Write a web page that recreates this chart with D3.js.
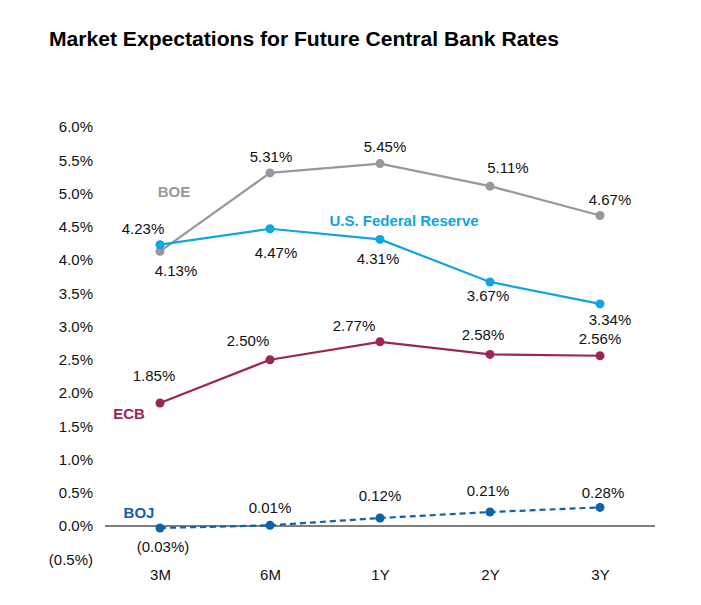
<!DOCTYPE html>
<html><head><meta charset="utf-8">
<script src="https://cdn.jsdelivr.net/npm/d3@7"></script>
<style>body{margin:0;background:#fff}svg{display:block;font-family:Arial,"Liberation Sans",sans-serif}</style>
</head><body><svg id="c" width="701" height="605"></svg>
<script>
const categories = ["3M","6M","1Y","2Y","3Y"];
const boe = [4.13,5.31,5.45,5.11,4.67];
const fed = [4.23,4.47,4.31,3.67,3.34];
const ecb = [1.85,2.50,2.77,2.58,2.56];
const boj = [-0.03,0.01,0.12,0.21,0.28];
const yTicks = [-0.5,0,0.5,1,1.5,2,2.5,3,3.5,4,4.5,5,5.5,6];

// label placement (offsets from the point), styling only
const offs = {
  boe:[[16,19],[1,-16],[5,-17],[18,-19],[10,-16]],
  fed:[[-17,-16],[6,24],[-2,19],[-2,14],[10,16]],
  ecb:[[-6,-27],[-22,-19],[-26,-16],[-7,-20],[0,-17]],
  boj:[[3,19],[0,-18],[0,-23],[-2,-22],[3,-15]]
};
const series = [
  {key:"boe", name:"BOE", values:boe, color:"#98989C", dash:null, lx:174, ly:191},
  {key:"fed", name:"U.S. Federal Reserve", values:fed, color:"#0EA5E0", dash:null, lx:404, ly:220},
  {key:"ecb", name:"ECB", values:ecb, color:"#9B2556", dash:null, lx:129, ly:413},
  {key:"boj", name:"BOJ", values:boj, color:"#0F62AA", dash:"6,4", lx:139, ly:512}
];
const fmt = v => v < 0 ? "(" + Math.abs(v).toFixed(2) + "%)" : v.toFixed(2) + "%";
const fmtT = v => v < 0 ? "(" + Math.abs(v).toFixed(1) + "%)" : v.toFixed(1) + "%";

const svg = d3.select("#c");
const x = d3.scalePoint().domain(categories).range([160,600]);
const y = d3.scaleLinear().domain([-0.5,6]).range([559.25,127]);

svg.append("text").attr("x",49).attr("y",46).attr("font-size",21.1).attr("font-weight","bold")
  .attr("fill","#000").text("Market Expectations for Future Central Bank Rates");

const yAxis = d3.axisLeft(y).tickValues(yTicks).tickFormat(fmtT).tickSize(0).tickPadding(0);
const gy = svg.append("g").attr("transform","translate(93,0)").call(yAxis);
gy.select(".domain").remove();
gy.selectAll("text").attr("font-size",15).attr("fill","#111").attr("font-family","Arial,'Liberation Sans',sans-serif");

const xAxis = d3.axisBottom(x).tickSize(0).tickPadding(0);
const gx = svg.append("g").attr("transform","translate(0,569)").call(xAxis);
gx.select(".domain").remove();
gx.selectAll("text").attr("font-size",15).attr("fill","#111").attr("font-family","Arial,'Liberation Sans',sans-serif");

svg.append("line").attr("x1",105).attr("x2",655).attr("y1",y(0)).attr("y2",y(0))
  .attr("stroke","#000").attr("stroke-width",1.2);

const line = d3.line().x((d,i)=>x(categories[i])).y(d=>y(d));
series.forEach(s=>{
  svg.append("path").datum(s.values).attr("d",line).attr("fill","none")
    .attr("stroke",s.color).attr("stroke-width",2.2)
    .attr("stroke-dasharray",s.dash);
  svg.selectAll(null).data(s.values).enter().append("circle")
    .attr("cx",(d,i)=>x(categories[i])).attr("cy",d=>y(d)).attr("r",4.5).attr("fill",s.color);
  svg.selectAll(null).data(s.values).enter().append("text")
    .attr("x",(d,i)=>x(categories[i])+offs[s.key][i][0])
    .attr("y",(d,i)=>y(d)+offs[s.key][i][1])
    .attr("text-anchor","middle").attr("dominant-baseline","central")
    .attr("font-size",15).attr("fill","#111").text(fmt);
  svg.append("text").attr("x",s.lx).attr("y",s.ly).attr("text-anchor","middle")
    .attr("dominant-baseline","central").attr("font-size",15).attr("font-weight","bold")
    .attr("fill",s.color).text(s.name);
});
</script></body></html>
